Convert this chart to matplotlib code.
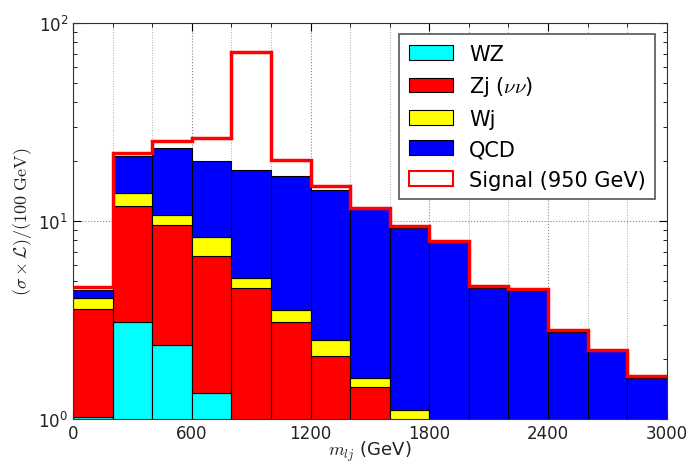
import matplotlib

matplotlib.use("Agg")
import matplotlib.pyplot as plt
import numpy as np
from matplotlib.patches import Patch

plt.rcParams["mathtext.fontset"] = "cm"

# bins of 200 GeV in m_lj
bin_edges = np.arange(0, 3001, 200)

# per-process contributions, stacked from the bottom up
wz = [1.02, 3.10, 2.36, 1.36, 0.45, 0.30, 0.20, 0.12, 0.08, 0.05, 0.03, 0.02, 0.01, 0.01, 0.01]
zj = [2.57, 8.80, 7.19, 5.32, 4.12, 2.78, 1.87, 1.33, 0.87, 0.55, 0.37, 0.28, 0.19, 0.14, 0.09]
wj = [0.48, 1.90, 1.15, 1.59, 0.56, 0.48, 0.43, 0.17, 0.16, 0.20, 0.15, 0.15, 0.10, 0.07, 0.05]
qcd = [0.43, 7.60, 12.60, 11.83, 12.87, 13.24, 11.90, 9.98, 8.08, 7.00, 4.05, 3.98, 2.44, 1.98, 1.47]
signal = [0.13, 0.60, 2.10, 6.20, 53.10, 3.60, 0.60, 0.10, 0.21, 0.15, 0.10, 0.10, 0.06, 0.04, 0.03]

backgrounds = [
    ("WZ", wz, "#00ffff"),
    (r"Zj ($\nu\nu$)", zj, "#ff0000"),
    ("Wj", wj, "#ffff00"),
    ("QCD", qcd, "#0000ff"),
]
signal_label = "Signal (950 GeV)"

fig = plt.figure(figsize=(6.91, 4.64), dpi=100)
ax = fig.add_axes([0.1056, 0.0948, 0.8594, 0.8534])

left = bin_edges[:-1]
widths = np.diff(bin_edges)
bottom = np.zeros(len(left))
handles = []
for label, values, color in backgrounds:
    values = np.asarray(values)
    bars = ax.bar(left, values, width=widths, bottom=bottom, align="edge",
                  color=color, edgecolor="black", linewidth=0.8, label=label, zorder=2)
    handles.append(bars)
    bottom = bottom + values

total = bottom + np.asarray(signal)
ax.stairs(total, bin_edges, baseline=None, color="#ff0000", linewidth=2.5, zorder=3)
handles.append(Patch(facecolor="white", edgecolor="#ff0000", linewidth=1.5,
                     label=signal_label))

ax.set_yscale("log")
ax.set_xlim(0, 3000)
ax.set_ylim(1, 100)
ax.set_xticks(np.arange(0, 3001, 600))
ax.set_xticks(bin_edges, minor=True)
ax.grid(True, which="major", color="#888888", linestyle=":", linewidth=0.8, zorder=0)
ax.grid(True, which="minor", axis="x", color="#aaaaaa", linestyle=":", linewidth=0.7, zorder=0)
ax.set_axisbelow(True)

ax.tick_params(which="both", direction="in", top=True, right=True, labelsize=12,
               labelcolor="#222222")
ax.tick_params(which="major", length=6)
ax.tick_params(which="minor", length=3)
for spine in ax.spines.values():
    spine.set_color("#333333")

ax.set_xlabel(r"$m_{lj}$ (GeV)", fontsize=13, color="#222222", labelpad=-2.5)
ax.set_ylabel(r"$(\sigma \times \mathcal{L})/(100\ \mathrm{GeV})$", fontsize=13,
              color="#222222", labelpad=3)

leg = ax.legend(handles=handles, loc="upper right", fontsize=15, fancybox=False,
                framealpha=1, edgecolor="#555555", borderaxespad=0.55, borderpad=0.45,
                labelspacing=0.5, handlelength=2.1, handleheight=0.72,
                handletextpad=0.8)
leg.get_frame().set_linewidth(1.2)

fig.savefig("out.png", dpi=100)
